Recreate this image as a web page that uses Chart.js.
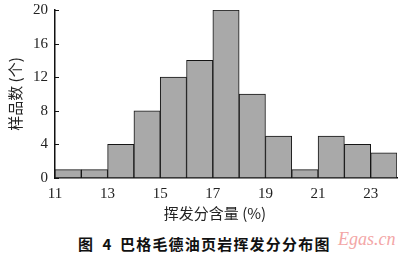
<!DOCTYPE html>
<html>
<head>
<meta charset="utf-8">
<script src="https://cdn.jsdelivr.net/npm/chart.js@4"></script>
<style>
  html, body { margin: 0; padding: 0; background: #fff; }
  #wrap { position: relative; width: 400px; height: 253px; overflow: hidden; }
  #chart-box { position: absolute; left: 0; top: 0; width: 400px; height: 228px; }
  .cap {
    position: absolute; top: 235px; white-space: nowrap;
    font-family: "Noto Sans CJK SC", sans-serif; font-weight: bold; font-size: 15px;
    color: #111; line-height: 18px;
  }
  #cap-num { left: 78px; letter-spacing: 3px; }
  #cap-text { left: 120px; letter-spacing: 1.2px; }
  #mark {
    position: absolute; left: 338px; top: 229px;
    font-family: "Liberation Serif", serif; font-style: italic; font-size: 18px;
    color: #f3a6a6;
  }
</style>
</head>
<body>
<div id="wrap">
  <div id="chart-box"><canvas id="c"></canvas></div>
  <div id="mark">Egas.cn</div>
  <div class="cap" id="cap-num">图 4</div>
  <div class="cap" id="cap-text">巴格毛德油页岩挥发分分布图</div>
</div>
<script>
// --- data ---
const binStarts = [11, 12, 13, 14, 15, 16, 17, 18, 19, 20, 21, 22, 23];
const counts    = [1, 1, 4, 8, 12, 14, 20, 10, 5, 1, 5, 4, 3];
const xTicks = [11, 13, 15, 17, 19, 21, 23];
const yTicks = [0, 4, 8, 12, 16, 20];
const xTitle = '挥发分含量 (%)';
const yTitle = '样品数 (个)';

const serif = '"Liberation Serif", serif';

// inward ticks + x title drawn by hand
const axisExtras = {
  id: 'axisExtras',
  afterDraw(chart) {
    const ctx = chart.ctx;
    const y = chart.scales.y;
    const a = chart.chartArea;
    ctx.save();
    ctx.strokeStyle = '#111';
    ctx.lineWidth = 1;
    ctx.beginPath();
    yTicks.forEach(v => {
      const py = Math.round(y.getPixelForValue(v)) + 0.5;
      ctx.moveTo(a.left, py);
      ctx.lineTo(a.left + 4, py);
    });
    ctx.stroke();
    ctx.fillStyle = '#222';
    ctx.font = '15px "Noto Sans CJK SC", "Liberation Serif"';
    ctx.textAlign = 'center';
    ctx.textBaseline = 'middle';
    ctx.fillText(xTitle, 215, 213);
    ctx.restore();
  }
};

new Chart(document.getElementById('c'), {
  type: 'bar',
  data: {
    datasets: [{
      data: binStarts.map((s, i) => ({ x: s + 0.5, y: counts[i] })),
      backgroundColor: '#a9a9a9',
      borderColor: '#151515',
      borderWidth: 1,
      barPercentage: 1,
      categoryPercentage: 1,
      borderSkipped: false
    }]
  },
  options: {
    responsive: true,
    maintainAspectRatio: false,
    animation: false,
    layout: { padding: { left: 6, right: 3, top: 10, bottom: 0 } },
    plugins: { legend: { display: false }, tooltip: { enabled: false } },
    scales: {
      x: {
        type: 'linear',
        offset: false,
        min: 11, max: 24,
        afterBuildTicks: s => { s.ticks = xTicks.map(v => ({ value: v })); },
        afterFit: s => { s.height = 50; s.paddingLeft = 0; s.paddingRight = 0; },
        grid: { display: false, drawTicks: false },
        border: { color: '#111', width: 1.5 },
        ticks: { padding: 7, color: '#222', font: { family: serif, size: 15 } }
      },
      y: {
        min: 0, max: 20,
        afterBuildTicks: s => { s.ticks = yTicks.map(v => ({ value: v })); },
        afterFit: s => { s.width = 49; s.paddingTop = 0; s.paddingBottom = 0; },
        grid: { display: false, drawTicks: false },
        border: { color: '#111', width: 1.5 },
        title: {
          display: true, text: yTitle, color: '#222', padding: 0,
          font: { family: '"Noto Sans CJK SC"', size: 15 }
        },
        ticks: { padding: 7, color: '#222', font: { family: serif, size: 15 } }
      }
    }
  },
  plugins: [axisExtras]
});
</script>
</body>
</html>
